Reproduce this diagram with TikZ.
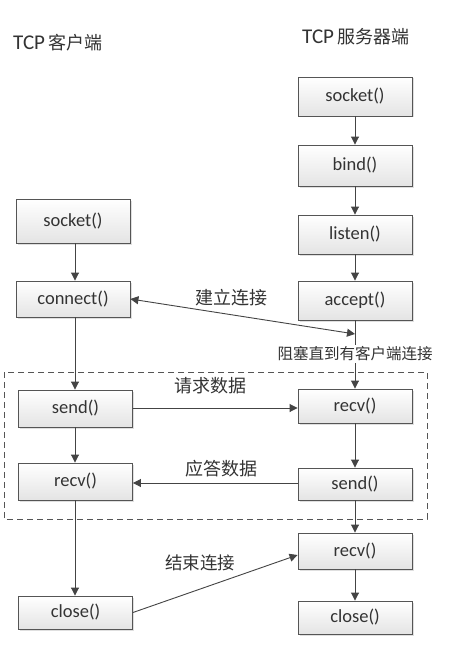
\documentclass[tikz,border=0pt]{standalone}
\usepackage{fontspec}
\setmainfont{Carlito}
\newfontfamily\cjk{Noto Sans CJK SC}
\usetikzlibrary{arrows.meta,shadows,calc}
\definecolor{boxline}{HTML}{555555}
\definecolor{boxbot}{HTML}{E4E4E4}
\definecolor{txt}{HTML}{333333}
\definecolor{arr}{HTML}{444444}
\begin{document}
\begin{tikzpicture}[x=1pt,y=-1pt,
  fn/.style={draw=boxline, line width=0.9pt, top color=white, bottom color=boxbot,
    minimum width=114pt, inner sep=0pt, text=txt,
    font=\fontsize{18.5}{20}\selectfont,
    drop shadow={shadow xshift=1.5pt, shadow yshift=-1.5pt, opacity=0.25, fill=gray}},
  flow/.style={draw=arr, line width=0.9pt, -{Triangle[length=8pt,width=8pt]}},
  lbl/.style={text=txt, font=\cjk\fontsize{18}{20}\selectfont, inner sep=1pt},
  hdr/.style={text=txt, inner sep=0pt}]
\useasboundingbox (0,0) rectangle (471,666);
\fill[white] (0,0) rectangle (471,666);

% headers
\node[hdr, anchor=west] (hc) at (13,43) {\fontsize{21}{24}\selectfont TCP\,{\cjk\fontsize{18}{20}\selectfont 客户端}};
\node[hdr, anchor=west] (hs) at (302,37) {\fontsize{21}{24}\selectfont TCP\,{\cjk\fontsize{18}{20}\selectfont 服务器端}};

% dashed region
\draw[boxline, line width=0.9pt, dash pattern=on 6pt off 4pt] (4,372) rectangle (427,519);

% client column
\node[fn, minimum height=44pt] (csock) at (73,221) {socket()};
\node[fn, minimum height=36pt] (cconn) at (73,299) {connect()};
\node[fn, minimum height=37pt] (csend) at (75.5,408.5) {send()};
\node[fn, minimum height=37pt] (crecv) at (75.5,481.5) {recv()};
\node[fn, minimum height=33pt] (cclose) at (75.5,612.5) {close()};

% server column
\node[fn, minimum height=39pt] (ssock) at (355,96.5) {socket()};
\node[fn, minimum height=41pt] (sbind) at (355,165.5) {bind()};
\node[fn, minimum height=39pt] (slist) at (355,234.5) {listen()};
\node[fn, minimum height=39pt] (sacc) at (355,300.5) {accept()};
\node[fn, minimum height=34pt] (srecv) at (355,406) {recv()};
\node[fn, minimum height=32pt] (ssend) at (355,484) {send()};
\node[fn, minimum height=36pt] (srecvb) at (355,551) {recv()};
\node[fn, minimum height=33pt] (sclose) at (355,617.5) {close()};

% vertical flows client
\draw[flow] (csock.south -| 75,0) -- (cconn.north -| 75,0);
\draw[flow] (cconn.south -| 75,0) -- (csend.north -| 75,0);
\draw[flow] (csend.south -| 75,0) -- (crecv.north -| 75,0);
\draw[flow] (crecv.south -| 75,0) -- (cclose.north -| 75,0);

% vertical flows server
\draw[flow] (ssock) -- (sbind);
\draw[flow] (sbind) -- (slist);
\draw[flow] (slist) -- (sacc);
\draw[flow] (sacc) -- (srecv);
\draw[flow] (srecv) -- (ssend);
\draw[flow] (ssend) -- (srecvb);
\draw[flow] (srecvb) -- (sclose);

% blocking label over the line
\coordinate (blk) at (355,334);
\node[lbl, fill=white, font=\cjk\fontsize{15.5}{18}\selectfont, inner sep=2pt] (blab) at (355,354) {阻塞直到有客户端连接};

% connection establishment
\draw[draw=arr, line width=0.9pt, {Triangle[length=8pt,width=8pt]}-{Triangle[length=8pt,width=8pt]}] (cconn.east) -- (blk);
\node[lbl] (l1) at (231,298) {建立连接};

% request data
\draw[flow] (csend.east |- 0,408) -- (srecv.west |- 0,408);
\node[lbl] (l2) at (210,386) {请求数据};

% reply data
\draw[flow] (ssend.west |- 0,483) -- (crecv.east |- 0,483);
\node[lbl] (l3) at (221,469) {应答数据};

% close connection
\draw[flow] (cclose.east) -- ([yshift=-4pt]srecvb.west);
\node[lbl, font=\cjk\fontsize{17.5}{20}\selectfont] (l4) at (200,563) {结束连接};
\end{tikzpicture}
\end{document}
